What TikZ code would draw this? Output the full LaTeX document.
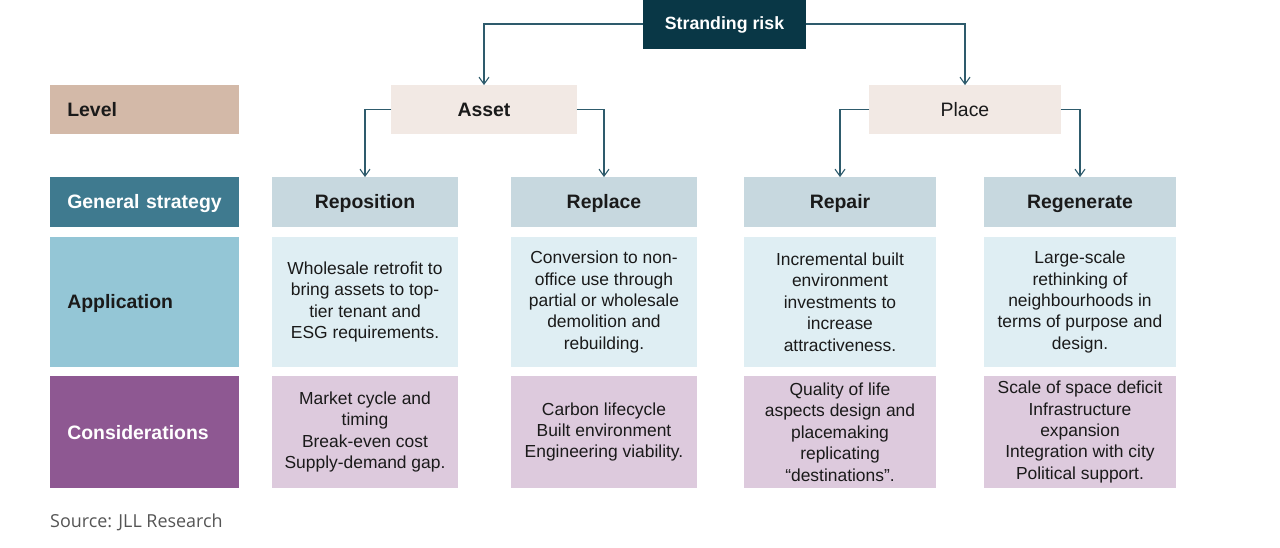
\documentclass[tikz,border=0pt]{standalone}
\usepackage{fontspec}
\setmainfont{Liberation Sans}
\newfontfamily\srcfont{Open Sans}
\usetikzlibrary{arrows.meta,positioning}
\definecolor{cdark}{HTML}{093746}
\definecolor{clevel}{HTML}{D3B9A8}
\definecolor{clight}{HTML}{F2E9E4}
\definecolor{cgen}{HTML}{3F7A8F}
\definecolor{cgencell}{HTML}{C7D8DF}
\definecolor{capp}{HTML}{94C6D6}
\definecolor{cappcell}{HTML}{DFEEF3}
\definecolor{ccon}{HTML}{8E5892}
\definecolor{cconcell}{HTML}{DDCADD}
\definecolor{cline}{HTML}{2E5B6C}
\definecolor{ctext}{HTML}{1A1A1A}
\definecolor{csrc}{HTML}{555555}
\tikzset{
  cell/.style={rectangle, inner sep=0pt, outer sep=0pt, align=center, text=ctext,
    font=\fontsize{17.5}{21.5}\selectfont},
  head/.style={cell, font=\fontsize{19.5}{22}\selectfont\bfseries, text height=14bp, text depth=0pt},
  label/.style={rectangle, inner sep=0pt, outer sep=0pt, minimum width=189, text width=155,
    align=left, font=\fontsize{19.5}{22}\selectfont\bfseries, text height=14bp, text depth=0pt},
  arr/.style={draw=cline, line width=1.3bp, -{Straight Barb[length=7bp,width=10bp,line width=1.1bp]}},
}
\begin{document}
\begin{tikzpicture}[x=1bp,y=-1bp]
\useasboundingbox (0,0) rectangle (1280,548);
\fill[white] (0,0) rectangle (1280,548);
% top
\node[cell, fill=cdark, text=white, minimum width=163, minimum height=52,
  font=\fontsize{17.8}{21}\selectfont\bfseries, text height=13bp, text depth=0pt] (sr) at (724.5,23) {Stranding risk};
% level row
\node[label, fill=clevel, text=ctext, minimum height=49] (lvl) at (144.5,109.5) {Level};
\node[head, fill=clight, minimum width=186, minimum height=49] (asset) at (484,109.5) {Asset};
\node[head, fill=clight, minimum width=192, minimum height=49,
  font=\fontsize{19.5}{22}\selectfont] (place) at (965,109.5) {Place};
% general strategy row
\node[label, fill=cgen, text=white, minimum height=50] (gen) at (144.5,202) {General strategy};
\node[head, fill=cgencell, minimum width=186, minimum height=50] (rep) at (365,202) {Reposition};
\node[head, fill=cgencell, minimum width=186, minimum height=50] (repl) at (604,202) {Replace};
\node[head, fill=cgencell, minimum width=192, minimum height=50] (repair) at (840,202) {Repair};
\node[head, fill=cgencell, minimum width=192, minimum height=50] (regen) at (1080,202) {Regenerate};
% application row
\node[label, fill=capp, text=ctext, minimum height=130] (app) at (144.5,302) {Application};
\node[cell, fill=cappcell, minimum width=186, minimum height=130] (a1) at (365,302)
  {Wholesale retrofit to\\bring assets to top-\\tier tenant and\\ESG requirements.};
\node[cell, fill=cappcell, minimum width=186, minimum height=130] (a2) at (604,302)
  {Conversion to non-\\office use through\\partial or wholesale\\demolition and\\rebuilding.};
\node[cell, fill=cappcell, minimum width=192, minimum height=130] (a3) at (840,302)
  {Incremental built\\environment\\investments to\\increase\\attractiveness.};
\node[cell, fill=cappcell, minimum width=192, minimum height=130] (a4) at (1080,302)
  {Large-scale\\rethinking of\\neighbourhoods in\\terms of purpose and\\design.};
% considerations row
\node[label, fill=ccon, text=white, minimum height=112] (con) at (144.5,432) {Considerations};
\node[cell, fill=cconcell, minimum width=186, minimum height=112] (c1) at (365,432)
  {Market cycle and\\timing\\Break-even cost\\Supply-demand gap.};
\node[cell, fill=cconcell, minimum width=186, minimum height=112] (c2) at (604,432)
  {Carbon lifecycle\\Built environment\\Engineering viability.};
\node[cell, fill=cconcell, minimum width=192, minimum height=112] (c3) at (840,432)
  {Quality of life\\aspects design and\\placemaking\\replicating\\“destinations”.};
\node[cell, fill=cconcell, minimum width=192, minimum height=112] (c4) at (1080,432)
  {Scale of space deficit\\Infrastructure\\expansion\\Integration with city\\Political support.};
% source
\node[anchor=west, inner sep=0pt, text=csrc, font=\srcfont\fontsize{18}{21}\selectfont] (src) at (50,522) {Source: JLL Research};
% connectors
\draw[arr] (sr.west |- 0,24) coordinate (srw) -| (asset.north);
\draw[arr] (sr.east |- 0,24) coordinate (sre) -| (place.north);
\draw[arr] (asset.west) -| (rep.north);
\draw[arr] (asset.east) -| (repl.north);
\draw[arr] (place.west) -| (repair.north);
\draw[arr] (place.east) -| (regen.north);
\end{tikzpicture}
\end{document}
